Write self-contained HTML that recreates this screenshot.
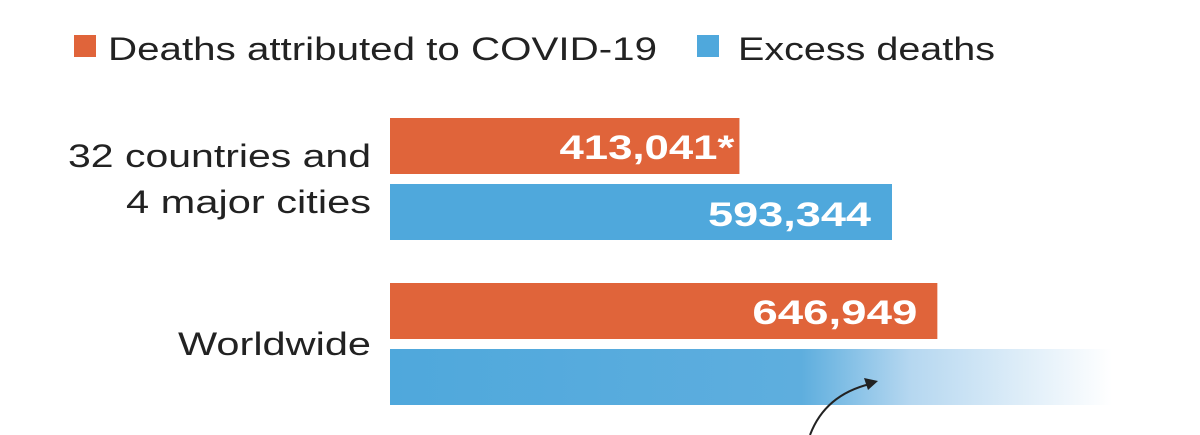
<!DOCTYPE html>
<html><head><meta charset="utf-8"><style>
html,body{margin:0;padding:0;background:#fff;}
svg{display:block;font-family:"Liberation Sans",sans-serif;}
</style></head><body>
<svg id="chart" width="1200" height="435" viewBox="0 0 1200 435">
<defs>
<linearGradient id="fade" x1="390" x2="1112" y1="0" y2="0" gradientUnits="userSpaceOnUse">
<stop offset="0" stop-color="#4fa8dc"/>
<stop offset="0.57" stop-color="#5eaede"/>
<stop offset="0.72" stop-color="#b5d7f0"/>
<stop offset="1" stop-color="#ffffff"/>
</linearGradient>
</defs>
<g>
<rect x="74" y="35" width="22" height="22" fill="#e0643a"/>
<text x="108" y="60" font-size="32" fill="#222" textLength="549" lengthAdjust="spacingAndGlyphs">Deaths attributed to COVID-19</text>
<rect x="697" y="35" width="22" height="22" fill="#4fa8dc"/>
<text x="738" y="60" font-size="32" fill="#222" textLength="257" lengthAdjust="spacingAndGlyphs">Excess deaths</text>
</g>
<g id="bars"></g>
<path d="M810 435 Q825 395 870 384" fill="none" stroke="#222" stroke-width="2"/>
<polygon points="878,381 864,378 868,390" fill="#222"/>
</svg>
<script>
const categories = ["32 countries and\n4 major cities", "Worldwide"];
const covidDeaths = [413041, 646949];
const excessDeaths = [593344, null];
const covidLabels = ["413,041*", "646,949"];
const excessLabels = ["593,344", ""];
const x0 = 390, pxPer = 502 / 593344;
const xs = v => x0 + v * pxPer;
const groupTop = [118, 283];
const lineWidths = {"32 countries and": 303, "4 major cities": 245, "Worldwide": 193};
const g = document.getElementById('bars');
const NS = 'http://www.w3.org/2000/svg';
categories.forEach((c, i) => {
  const y = groupTop[i];
  const lines = c.split('\n');
  lines.forEach((l, k) => {
    const t = document.createElementNS(NS, 'text');
    
    
    t.setAttribute('text-anchor', 'end');
    t.setAttribute('font-size', '32');
    t.setAttribute('fill', '#222');
    t.setAttribute('x', 371);
    t.setAttribute('y', lines.length > 1 ? y + 49 + k * 46 : y + 72);
    if (lineWidths[l]) { t.setAttribute('textLength', lineWidths[l]); t.setAttribute('lengthAdjust', 'spacingAndGlyphs'); }
    t.textContent = l;
    g.appendChild(t);
  });
  const r = document.createElementNS(NS, 'rect');
  
  
  r.setAttribute('x', x0); r.setAttribute('y', y);
  r.setAttribute('width', xs(covidDeaths[i]) - x0); r.setAttribute('height', 56);
  r.setAttribute('fill', '#e0643a');
  g.appendChild(r);
  const lt = document.createElementNS(NS, 'text');
  
  
  lt.setAttribute('x', xs(covidDeaths[i]) - (i === 0 ? 5 : 20)); lt.setAttribute('y', y + 41);
  lt.setAttribute('text-anchor', 'end'); lt.setAttribute('font-size', '34');
  lt.setAttribute('font-weight', 'bold'); lt.setAttribute('fill', '#fff');
  lt.setAttribute('textLength', i === 0 ? 175 : 165);
  lt.setAttribute('lengthAdjust', 'spacingAndGlyphs');
  lt.textContent = covidLabels[i];
  g.appendChild(lt);
  const b = document.createElementNS(NS, 'rect');
  
  
  b.setAttribute('x', x0); b.setAttribute('y', y + 66);
  b.setAttribute('height', 56);
  if (excessDeaths[i] != null) {
    b.setAttribute('width', xs(excessDeaths[i]) - x0);
    b.setAttribute('fill', '#4fa8dc');
  } else {
    b.setAttribute('width', 722);
    b.setAttribute('fill', 'url(#fade)');
  }
  g.appendChild(b);
  if (excessDeaths[i] != null) {
    const et = document.createElementNS(NS, 'text');
    
    
    et.setAttribute('x', xs(excessDeaths[i]) - 21); et.setAttribute('y', y + 108);
    et.setAttribute('text-anchor', 'end'); et.setAttribute('font-size', '34');
    et.setAttribute('font-weight', 'bold'); et.setAttribute('fill', '#fff');
    et.setAttribute('textLength', 163);
    et.setAttribute('lengthAdjust', 'spacingAndGlyphs');
    et.textContent = excessLabels[i];
    g.appendChild(et);
  }
});
</script>
</body></html>
